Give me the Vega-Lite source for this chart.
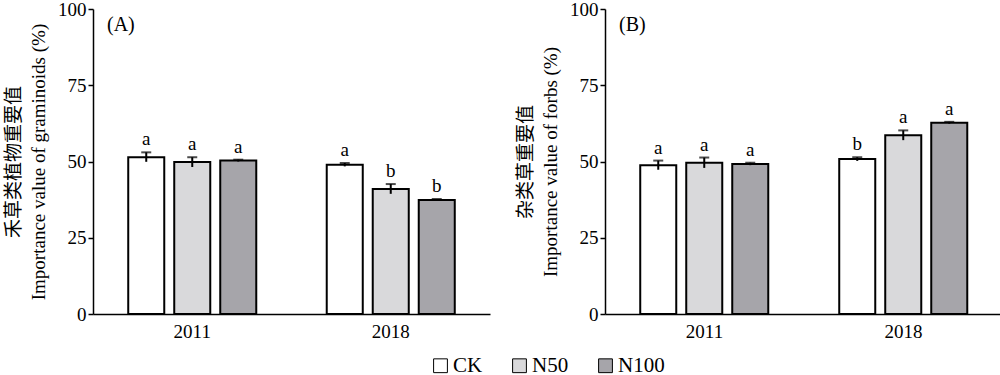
{
  "$schema": "https://vega.github.io/schema/vega-lite/v6.json",
  "padding": {"left": 4, "top": 0, "right": 0, "bottom": 0},
  "datasets": {
    "iv": [
      {"panel": "A", "year": "2011", "trt": "CK", "mean": 51.4, "lo": 49.9, "hi": 53.0, "sig": "a"},
      {"panel": "A", "year": "2011", "trt": "N50", "mean": 49.8, "lo": 48.2, "hi": 51.4, "sig": "a"},
      {"panel": "A", "year": "2011", "trt": "N100", "mean": 50.3, "lo": 50.0, "hi": 50.6, "sig": "a"},
      {"panel": "A", "year": "2018", "trt": "CK", "mean": 48.9, "lo": 48.4, "hi": 49.5, "sig": "a"},
      {"panel": "A", "year": "2018", "trt": "N50", "mean": 41.0, "lo": 39.4, "hi": 42.6, "sig": "b"},
      {"panel": "A", "year": "2018", "trt": "N100", "mean": 37.4, "lo": 37.1, "hi": 37.7, "sig": "b"},
      {"panel": "B", "year": "2011", "trt": "CK", "mean": 48.8, "lo": 47.3, "hi": 50.3, "sig": "a"},
      {"panel": "B", "year": "2011", "trt": "N50", "mean": 49.6, "lo": 47.9, "hi": 51.3, "sig": "a"},
      {"panel": "B", "year": "2011", "trt": "N100", "mean": 49.2, "lo": 48.8, "hi": 49.6, "sig": "a"},
      {"panel": "B", "year": "2018", "trt": "CK", "mean": 50.8, "lo": 50.2, "hi": 51.4, "sig": "b"},
      {"panel": "B", "year": "2018", "trt": "N50", "mean": 58.6, "lo": 57.0, "hi": 60.2, "sig": "a"},
      {"panel": "B", "year": "2018", "trt": "N100", "mean": 62.7, "lo": 62.4, "hi": 63.0, "sig": "a"}
    ]
  },
  "data": {"name": "iv"},
  "spacing": 26,
  "hconcat": [
    {
      "width": 397,
      "height": 305,
      "transform": [{"filter": "datum.panel === 'A'"}],
      "title": {"text": "(A)", "anchor": "start", "frame": "group", "offset": -35, "dx": 14, "baseline": "top"},
      "encoding": {
        "x": {"field": "year", "type": "nominal", "scale": {"paddingInner": 0, "paddingOuter": 0}, "axis": {"title": null, "ticks": false, "labelAngle": 0, "labelPadding": 8}},
        "xOffset": {"field": "trt", "type": "nominal", "sort": ["CK", "N50", "N100"], "scale": {"paddingInner": 0.217, "paddingOuter": 0.766}}
      },
      "layer": [
        {
          "mark": {"type": "bar", "stroke": "black", "strokeWidth": 2},
          "encoding": {
            "y": {"field": "mean", "type": "quantitative", "scale": {"domain": [0, 100], "nice": false}, "axis": {"values": [0, 25, 50, 75, 100], "title": ["禾草类植物重要值", "Importance value of graminoids (%)"]}},
            "fill": {"field": "trt", "type": "nominal", "sort": ["CK", "N50", "N100"], "scale": {"domain": ["CK", "N50", "N100"], "range": ["#ffffff", "#d9d9db", "#a6a5aa"]}, "legend": {"title": null, "orient": "none", "legendX": 337, "legendY": 346, "direction": "horizontal", "symbolType": "square", "symbolStrokeColor": "black", "symbolStrokeWidth": 1, "symbolSize": 190, "labelFontSize": 21, "columnPadding": 26, "labelOffset": 2}}
          }
        },
        {
          "mark": {"type": "rule", "strokeWidth": 2, "color": "black"},
          "encoding": {"y": {"field": "lo", "type": "quantitative"}, "y2": {"field": "hi"}}
        },
        {
          "mark": {"type": "tick", "color": "black", "thickness": 2, "size": 10},
          "encoding": {"y": {"field": "hi", "type": "quantitative"}}
        },
        {
          "mark": {"type": "text", "baseline": "bottom", "dy": -3, "fontSize": 19},
          "encoding": {"y": {"field": "hi", "type": "quantitative"}, "text": {"field": "sig"}}
        }
      ]
    },
    {
      "width": 398,
      "height": 305,
      "transform": [{"filter": "datum.panel === 'B'"}],
      "title": {"text": "(B)", "anchor": "start", "frame": "group", "offset": -35, "dx": 14, "baseline": "top"},
      "encoding": {
        "x": {"field": "year", "type": "nominal", "scale": {"paddingInner": 0, "paddingOuter": 0}, "axis": {"title": null, "ticks": false, "labelAngle": 0, "labelPadding": 8}},
        "xOffset": {"field": "trt", "type": "nominal", "sort": ["CK", "N50", "N100"], "scale": {"paddingInner": 0.217, "paddingOuter": 0.766}}
      },
      "layer": [
        {
          "mark": {"type": "bar", "stroke": "black", "strokeWidth": 2},
          "encoding": {
            "y": {"field": "mean", "type": "quantitative", "scale": {"domain": [0, 100], "nice": false}, "axis": {"values": [0, 25, 50, 75, 100], "title": ["杂类草重要值", "Importance value of forbs (%)"]}},
            "fill": {"field": "trt", "type": "nominal", "sort": ["CK", "N50", "N100"]}
          }
        },
        {
          "mark": {"type": "rule", "strokeWidth": 2, "color": "black"},
          "encoding": {"y": {"field": "lo", "type": "quantitative"}, "y2": {"field": "hi"}}
        },
        {
          "mark": {"type": "tick", "color": "black", "thickness": 2, "size": 10},
          "encoding": {"y": {"field": "hi", "type": "quantitative"}}
        },
        {
          "mark": {"type": "text", "baseline": "bottom", "dy": -3, "fontSize": 19},
          "encoding": {"y": {"field": "hi", "type": "quantitative"}, "text": {"field": "sig"}}
        }
      ]
    }
  ],
  "config": {
    "font": "Liberation Serif, Noto Sans CJK SC",
    "view": {"stroke": null},
    "title": {"fontSize": 20, "fontWeight": "normal", "color": "black"},
    "text": {"color": "black"},
    "axis": {"domainColor": "black", "domainWidth": 1.5, "tickColor": "black", "tickWidth": 1.5, "tickSize": 5, "labelColor": "black", "labelFontSize": 19, "labelPadding": 2, "titleFontSize": 19, "titleFontWeight": "normal", "titleColor": "black", "titleLineHeight": 25, "titlePadding": 9, "grid": false},
    "legend": {"labelColor": "black", "labelFontSize": 21}
  }
}
